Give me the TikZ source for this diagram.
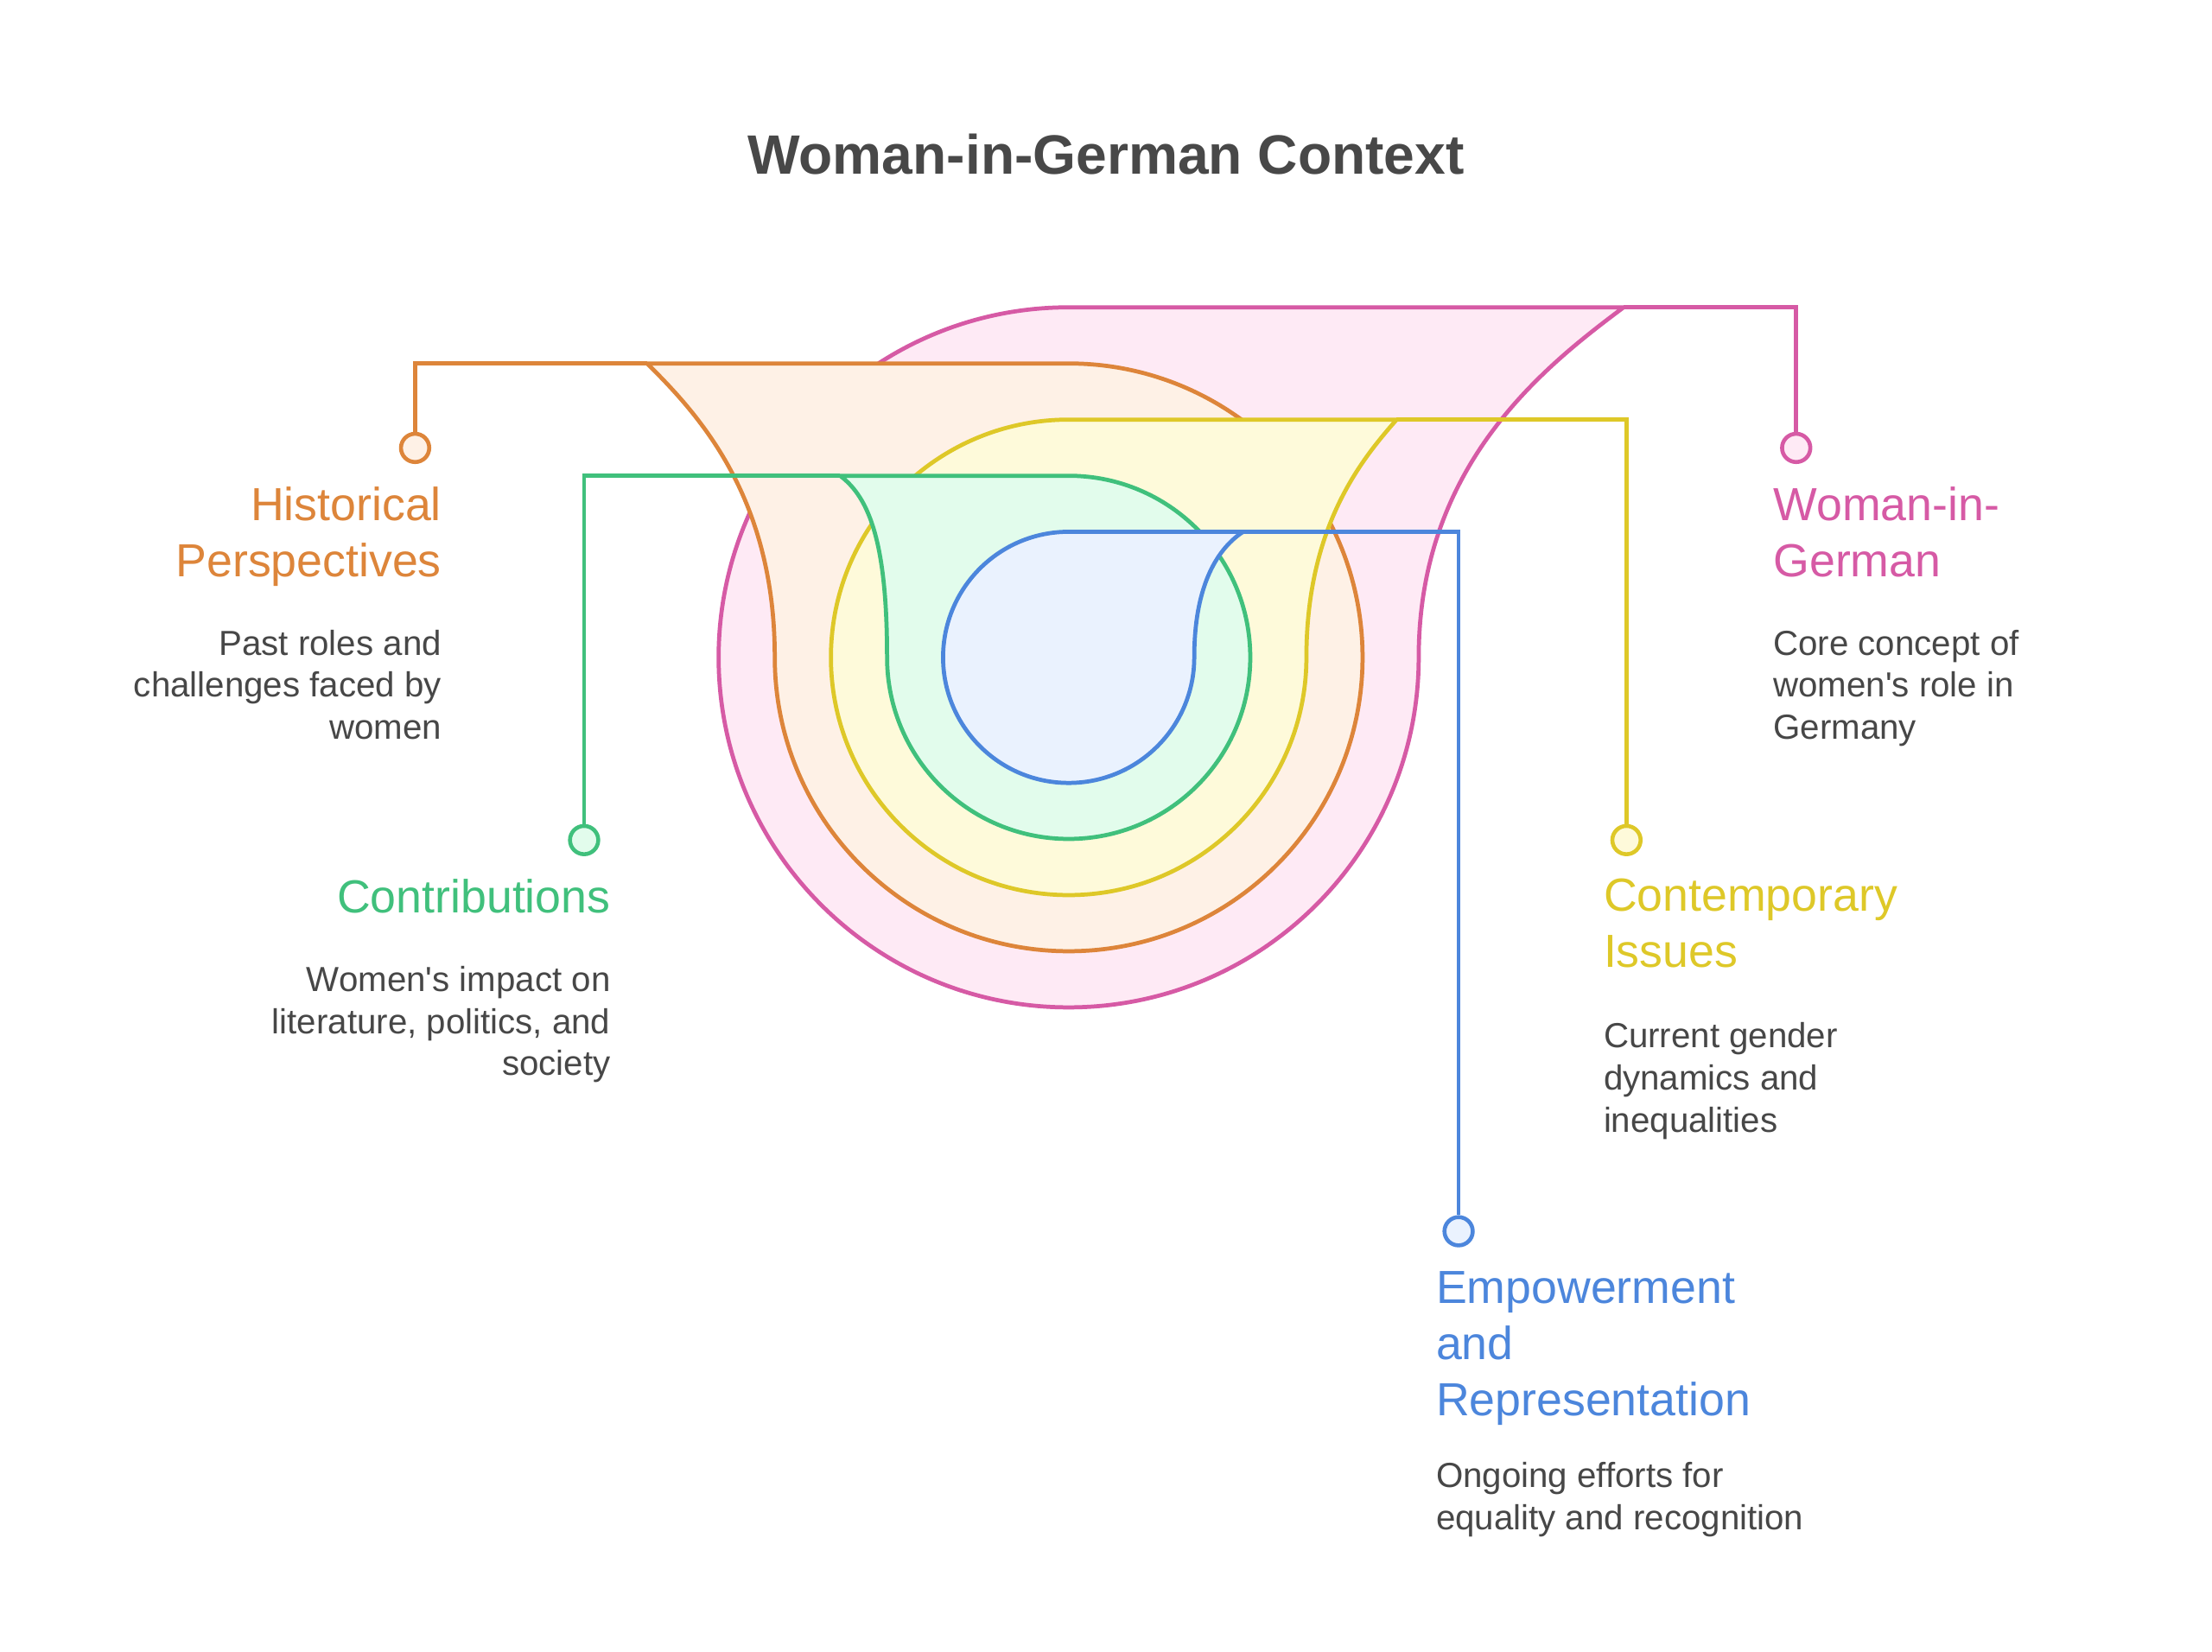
\documentclass[tikz,border=0pt]{standalone}
\usepackage{fontspec}
\setmainfont{Liberation Sans}[Ligatures=TeXOff]
\definecolor{pinkC}{HTML}{D65AA5}
\definecolor{pinkF}{HTML}{FEEAF5}
\definecolor{orangeC}{HTML}{DD853A}
\definecolor{orangeF}{HTML}{FEF1E6}
\definecolor{yellowC}{HTML}{DEC828}
\definecolor{yellowF}{HTML}{FEFADA}
\definecolor{greenC}{HTML}{40C07C}
\definecolor{greenF}{HTML}{E2FCEC}
\definecolor{blueC}{HTML}{4C86DC}
\definecolor{blueF}{HTML}{EAF2FE}
\definecolor{txtgray}{HTML}{474747}
\definecolor{titlegray}{HTML}{484848}
\begin{document}
\begin{tikzpicture}[x=0.5pt,y=0.5pt,
  ring/.style={line width=1.45pt, line join=miter},
  conn/.style={line width=1.45pt},
  marker/.style={circle, draw, line width=1.4pt, minimum size=10pt, inner sep=0pt},
  lbl/.style={font=\fontsize{16.4pt}{19.85pt}\selectfont, inner sep=0pt},
  dsc/.style={font=\fontsize{12.3pt}{14.85pt}\selectfont, text=txtgray, inner sep=0pt},
  ttl/.style={font=\fontsize{19.6pt}{23pt}\selectfont\bfseries, text=titlegray, inner sep=0pt}]
\fill[white] (0,0) rectangle (1564,-1168);
\useasboundingbox (0,0) rectangle (1564,-1168);

% title
\node[ttl, anchor=base] (title) at (782,-122.8) {Woman-in-German Context};

% tail top coordinates
\coordinate (pTop) at (1148,-217.3);
\coordinate (oTop) at (457.6,-257);
\coordinate (yTop) at (987.5,-296.7);
\coordinate (gTop) at (594,-336.4);
\coordinate (bTop) at (879,-376);

% markers (positions)
\coordinate (pmPos) at (1270,-316.7);
\coordinate (omPos) at (293.5,-316.7);
\coordinate (ymPos) at (1150,-594);
\coordinate (gmPos) at (413,-594);
\coordinate (bmPos) at (1031.3,-870.6);

% pink
\filldraw[ring, draw=pinkC, fill=pinkF] (755.6,-217.3) arc[start angle=90, end angle=360, radius=247.5]
  .. controls (1003.1,-329) and (1091.5,-259.5) .. (pTop) -- cycle;
\node[marker, draw=pinkC, fill=pinkF] (pm) at (pmPos) {};
\draw[conn, pinkC] (pTop) -| (pm.north);

% orange
\filldraw[ring, draw=orangeC, fill=orangeF] (755.6,-257) arc[start angle=90, end angle=-180, radius=207.8]
  .. controls (547.8,-350) and (492.6,-292) .. (oTop) -- cycle;
\node[marker, draw=orangeC, fill=orangeF] (om) at (omPos) {};
\draw[conn, orangeC] (oTop) -| (om.north);

% yellow
\filldraw[ring, draw=yellowC, fill=yellowF] (755.6,-296.7) arc[start angle=90, end angle=360, radius=168.1]
  .. controls (923.7,-372.4) and (962.6,-325) .. (yTop) -- cycle;
\node[marker, draw=yellowC, fill=yellowF] (ym) at (ymPos) {};
\draw[conn, yellowC] (yTop) -| (ym.north);

% green
\filldraw[ring, draw=greenC, fill=greenF] (755.6,-336.4) arc[start angle=90, end angle=-180, radius=128.4]
  .. controls (627.2,-385) and (615,-352) .. (gTop) -- cycle;
\node[marker, draw=greenC, fill=greenF] (gm) at (gmPos) {};
\draw[conn, greenC] (gTop) -| (gm.north);

% blue
\filldraw[ring, draw=blueC, fill=blueF] (755.6,-376) arc[start angle=90, end angle=360, radius=88.8]
  .. controls (844.4,-412) and (862,-387) .. (bTop) -- cycle;
\node[marker, draw=blueC, fill=blueF] (bm) at (bmPos) {};
\draw[conn, blueC] (bTop) -| (bm.north);

% Historical Perspectives
\node[lbl, text=orangeC, anchor=base east] (hp1) at (312.5,-367.8) {Historical};
\node[lbl, text=orangeC, anchor=base east] (hp2) at (312.5,-407.5) {Perspectives};
\node[dsc, anchor=base east] (hpd1) at (312.5,-463.3) {Past roles and};
\node[dsc, anchor=base east] (hpd2) at (312.5,-493) {challenges faced by};
\node[dsc, anchor=base east] (hpd3) at (312.5,-522.7) {women};

% Contributions
\node[lbl, text=greenC, anchor=base east] (co1) at (432,-645.5) {Contributions};
\node[dsc, anchor=base east] (cod1) at (432,-701) {Women's impact on};
\node[dsc, anchor=base east] (cod2) at (432,-730.7) {literature, politics, and};
\node[dsc, anchor=base east] (cod3) at (432,-760.4) {society};

% Woman-in-German
\node[lbl, text=pinkC, anchor=base west] (wg1) at (1253.5,-367.8) {Woman-in-};
\node[lbl, text=pinkC, anchor=base west] (wg2) at (1253.5,-407.5) {German};
\node[dsc, anchor=base west] (wgd1) at (1253.5,-463.3) {Core concept of};
\node[dsc, anchor=base west] (wgd2) at (1253.5,-493) {women's role in};
\node[dsc, anchor=base west] (wgd3) at (1253.5,-522.7) {Germany};

% Contemporary Issues
\node[lbl, text=yellowC, anchor=base west] (ci1) at (1133.5,-644.5) {Contemporary};
\node[lbl, text=yellowC, anchor=base west] (ci2) at (1133.5,-684.2) {Issues};
\node[dsc, anchor=base west] (cid1) at (1133.5,-741) {Current gender};
\node[dsc, anchor=base west] (cid2) at (1133.5,-770.7) {dynamics and};
\node[dsc, anchor=base west] (cid3) at (1133.5,-800.4) {inequalities};

% Empowerment and Representation
\node[lbl, text=blueC, anchor=base west] (er1) at (1015,-921.5) {Empowerment};
\node[lbl, text=blueC, anchor=base west] (er2) at (1015,-961.2) {and};
\node[lbl, text=blueC, anchor=base west] (er3) at (1015,-1000.9) {Representation};
\node[dsc, anchor=base west] (erd1) at (1015,-1052) {Ongoing efforts for};
\node[dsc, anchor=base west] (erd2) at (1015,-1081.7) {equality and recognition};
\end{tikzpicture}
\end{document}
